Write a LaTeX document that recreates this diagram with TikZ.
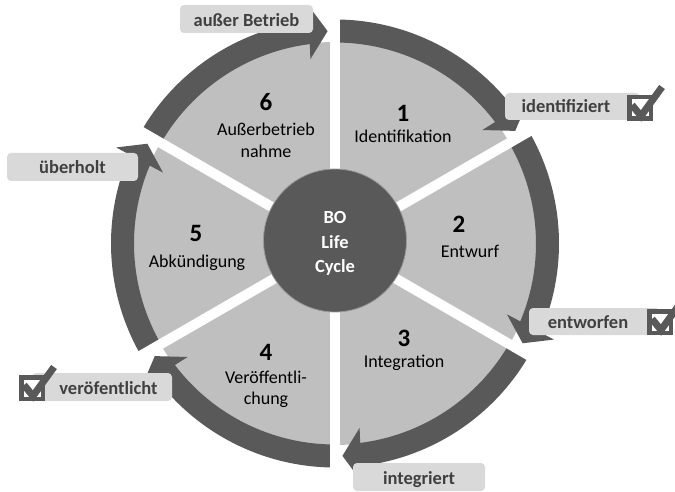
\documentclass[tikz,border=0pt]{standalone}
\usepackage{fontspec}
\setmainfont{Carlito}
\definecolor{secgray}{HTML}{BFBFBF}
\definecolor{dkgray}{HTML}{595959}
\definecolor{lblgray}{HTML}{D9D9D9}
\definecolor{lbltxt}{HTML}{404040}
\begin{document}
\begin{tikzpicture}[x=1pt,y=1pt,
  sectorfill/.style={fill=secgray},
  arrowfill/.style={fill=dkgray},
  gapline/.style={draw=white,line width=10pt},
  lblbox/.style={fill=lblgray,rounded corners=4pt},
  lbltext/.style={font=\fontsize{18.5}{20}\selectfont\bfseries,text=lbltxt,anchor=base,inner sep=0pt},
  numtext/.style={font=\fontsize{25}{27}\selectfont\bfseries,anchor=base,inner sep=0pt},
  sectext/.style={font=\fontsize{18}{20}\selectfont,anchor=base,inner sep=0pt},
  centertext/.style={font=\fontsize{18.5}{20}\selectfont\bfseries,text=white,anchor=base,inner sep=0pt},
  chkbox/.style={fill=white,draw=dkgray,line width=4.5pt},
  chkmark/.style={draw=dkgray,line width=7pt,miter limit=10}
]
\useasboundingbox (0,0) rectangle (675,491);
% ring
\begin{scope}[shift={(335,247.5)}]
  \foreach \s in {90,30,-30,-90,-150,-210}{
    \pgfmathsetmacro\e{\s-60}
    \fill[sectorfill] (0,0) -- (\s:201.5pt) arc[start angle=\s, end angle=\e, radius=201.5pt] -- cycle;
  }
  \foreach \s in {90,30,-30,-90,-150,-210}{
    \pgfmathsetmacro\e{\s-60}
    \pgfmathsetmacro\ea{\e+6.6}
    \pgfmathsetmacro\eb{\e+6.3}
    \pgfmathsetmacro\ec{\e+2}
    \pgfmathsetmacro\ed{\e+7.6}
    \pgfmathsetmacro\ee{\e+7.2}
    \fill[arrowfill] (\s:224pt) arc[start angle=\s, end angle=\ea, radius=224pt]
      -- (\eb:239pt) -- (\ec:212.5pt) -- (\ed:186pt) -- (\ee:201pt)
      arc[start angle=\ee, end angle=\s, radius=201pt] -- cycle;
  }
  \foreach \a in {90,30,-30,-90,-150,150}{
    \draw[gapline] (0,0) -- (\a:240pt);
  }
\end{scope}
\fill[dkgray] (335,250.5) circle[radius=71.5pt];
\draw[gray!80,line width=0.8pt] (335,250.5) circle[radius=71.5pt];
\node[centertext] (cBO) at (335,268) {BO};
\node[centertext] (cLife) at (335,243) {Life};
\node[centertext] (cCycle) at (335,219) {Cycle};
% sector texts
\node[numtext] (n1) at (403,369) {1};
\node[sectext] (t1) at (403,348) {Identifikation};
\node[numtext] (n2) at (459,259) {2};
\node[sectext] (t2) at (470,234) {Entwurf};
\node[numtext] (n3) at (404,145) {3};
\node[sectext] (t3) at (404,124) {Integration};
\node[numtext] (n4) at (266,131) {4};
\node[sectext] (t4a) at (266,108) {Veröffentli-};
\node[sectext] (t4b) at (266,87) {chung};
\node[numtext] (n5) at (196,250) {5};
\node[sectext] (t5) at (197,224) {Abkündigung};
\node[numtext] (n6) at (266,380) {6};
\node[sectext] (t6a) at (266,355) {Außerbetrieb};
\node[sectext] (t6b) at (266,334) {nahme};
% labels
\fill[lblbox] (180,458) rectangle (313,486);
\node[lbltext] (l6) at (246.5,464.5) {außer Betrieb};
\fill[lblbox] (505,371) rectangle (640,398);
\node[lbltext] (l1) at (566,378) {identifiziert};
\draw[chkbox] (629.25,372.25) rectangle (650.75,393.75);
\draw[chkmark] (632,386) -- (641,375) -- (662,404);
\fill[lblbox] (529,156) rectangle (660,183);
\node[lbltext] (l2) at (588,163) {entworfen};
\draw[chkbox] (649.25,158.25) rectangle (670.75,179.75);
\draw[chkmark] (652,172) -- (661,161) -- (682,190);
\fill[lblbox] (32,90) rectangle (172,118);
\node[lbltext] (l4) at (108.5,97) {veröfentlicht};
\draw[chkbox] (21.25,92.25) rectangle (42.75,113.75);
\draw[chkmark] (24,106) -- (33,95) -- (54,124);
\fill[lblbox] (353,0) rectangle (485,28);
\node[lbltext] (l3) at (419,7) {integriert};
\fill[lblbox] (7,310) rectangle (138,338);
\node[lbltext] (l5) at (72.5,317) {überholt};
\end{tikzpicture}
\end{document}
